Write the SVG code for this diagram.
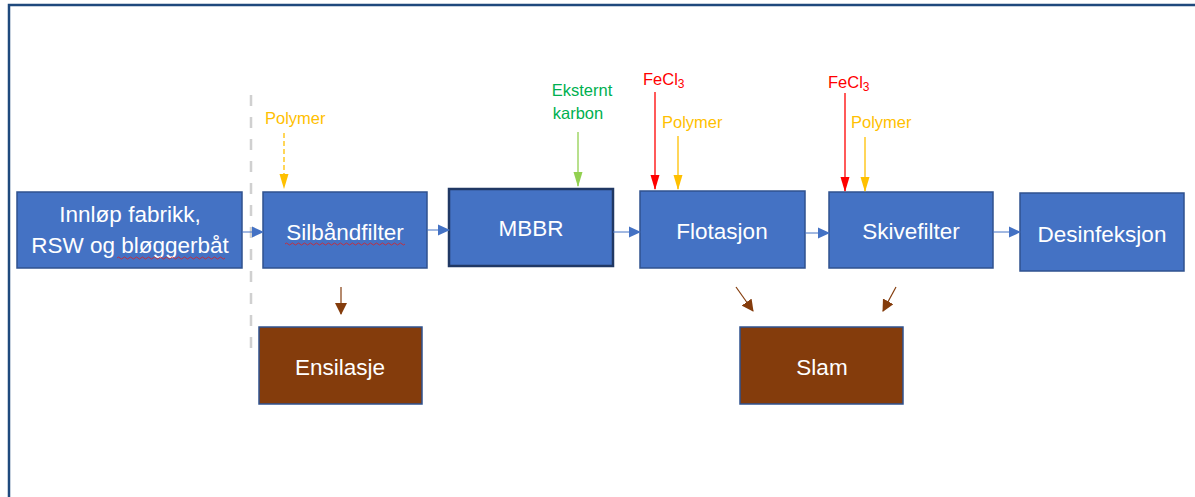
<svg xmlns="http://www.w3.org/2000/svg" width="1195" height="497" viewBox="0 0 1195 497">
  <defs>
    <style>
      .proc { fill: #4472C4; stroke: #2F528F; stroke-width: 1.5; }
      .waste { fill: #843C0C; stroke: #2F528F; stroke-width: 1.5; }
      .lbl { font-family: "Liberation Sans", Arial, sans-serif; font-size: 22.5px; fill: #FFFFFF; text-anchor: middle; }
      .small { font-family: "Liberation Sans", Arial, sans-serif; font-size: 16.5px; }
      .flow { stroke: #4472C4; stroke-width: 1; fill: none; }
      .sludge { stroke: #843C0C; stroke-width: 1.2; fill: none; }
    </style>
    <marker id="hBlue" markerWidth="12" markerHeight="12" refX="11" refY="6" orient="auto" markerUnits="userSpaceOnUse">
      <path d="M0,0.5 L12,6 L0,11.5 z" fill="#4472C4"/>
    </marker>
    <marker id="hBrown" markerWidth="12" markerHeight="12" refX="11" refY="6" orient="auto" markerUnits="userSpaceOnUse">
      <path d="M0,0 L12,6 L0,12 z" fill="#843C0C"/>
    </marker>
    <marker id="hRed" markerWidth="15" markerHeight="10" refX="14" refY="5" orient="auto" markerUnits="userSpaceOnUse">
      <path d="M0,0.5 L15,5 L0,9.5 z" fill="#FF0000"/>
    </marker>
    <marker id="hYellow" markerWidth="15" markerHeight="10" refX="14" refY="5" orient="auto" markerUnits="userSpaceOnUse">
      <path d="M0,0.5 L15,5 L0,9.5 z" fill="#FFC000"/>
    </marker>
    <marker id="hGreen" markerWidth="15" markerHeight="10" refX="14" refY="5" orient="auto" markerUnits="userSpaceOnUse">
      <path d="M0,0.5 L15,5 L0,9.5 z" fill="#92D050"/>
    </marker>
  </defs>

  <rect width="1195" height="497" fill="#FFFFFF"/>
  <!-- frame -->
  <path d="M9,497 L9,5 L1195,5" fill="none" stroke="#1F497D" stroke-width="2.5"/>

  <!-- boundary line -->
  <line x1="251" y1="95" x2="251" y2="358" stroke="#D0D0D0" stroke-width="2.5" stroke-dasharray="11,11"/>

  <g id="node-innlop">
    <rect class="proc" x="17" y="192" width="225" height="76"/>
    <text class="lbl" x="130" y="222">Innløp fabrikk,</text>
    <text class="lbl" x="130" y="253">RSW og bløggerbåt</text>
    <path d="M117,258 q1.5,-2 3,0 t3,0 t3,0 t3,0 t3,0 t3,0 t3,0 t3,0 t3,0 t3,0 t3,0 t3,0 t3,0 t3,0 t3,0 t3,0 t3,0 t3,0 t3,0 t3,0 t3,0 t3,0 t3,0 t3,0 t3,0 t3,0 t3,0 t3,0 t3,0 t3,0 t3,0 t3,0 t3,0 t3,0 t3,0 t3,0" fill="none" stroke="#E02020" stroke-width="0.8"/>
  </g>

  <g id="node-silband">
    <rect class="proc" x="263" y="192" width="164" height="76"/>
    <text class="lbl" x="345" y="240">Silbåndfilter</text>
    <path d="M285,244 q1.5,-2 3,0 t3,0 t3,0 t3,0 t3,0 t3,0 t3,0 t3,0 t3,0 t3,0 t3,0 t3,0 t3,0 t3,0 t3,0 t3,0 t3,0 t3,0 t3,0 t3,0 t3,0 t3,0 t3,0 t3,0 t3,0 t3,0 t3,0 t3,0 t3,0 t3,0 t3,0 t3,0 t3,0 t3,0 t3,0 t3,0 t3,0 t3,0 t3,0 t3,0" fill="none" stroke="#E02020" stroke-width="0.8"/>
  </g>

  <g id="node-mbbr">
    <rect x="449" y="189" width="164" height="77" fill="#4472C4" stroke="#203864" stroke-width="2.5"/>
    <text class="lbl" x="531" y="236">MBBR</text>
  </g>

  <g id="node-flotasjon">
    <rect class="proc" x="640" y="191" width="165" height="77"/>
    <text class="lbl" x="722" y="239">Flotasjon</text>
  </g>

  <g id="node-skivefilter">
    <rect class="proc" x="829" y="192" width="164" height="76"/>
    <text class="lbl" x="911" y="239">Skivefilter</text>
  </g>

  <g id="node-desinfeksjon">
    <rect class="proc" x="1020" y="193" width="164" height="78"/>
    <text class="lbl" x="1102" y="242">Desinfeksjon</text>
  </g>

  <g id="node-ensilasje">
    <rect class="waste" x="259" y="327" width="163" height="77"/>
    <text class="lbl" x="340" y="375">Ensilasje</text>
  </g>

  <g id="node-slam">
    <rect class="waste" x="740" y="327" width="163" height="77"/>
    <text class="lbl" x="822" y="375">Slam</text>
  </g>

  <!-- dosing labels -->
  <g id="chemicals">
    <text class="small" x="265" y="124" fill="#FFC000">Polymer</text>
    <text class="small" x="582" y="96" fill="#00B050" text-anchor="middle">Eksternt</text>
    <text class="small" x="578" y="119" fill="#00B050" text-anchor="middle">karbon</text>
    <text class="small" x="643" y="85" fill="#FF0000">FeCl<tspan font-size="12" dy="3">3</tspan></text>
    <text class="small" x="662" y="128" fill="#FFC000">Polymer</text>
    <text class="small" x="828" y="88" fill="#FF0000">FeCl<tspan font-size="12" dy="3">3</tspan></text>
    <text class="small" x="851" y="128" fill="#FFC000">Polymer</text>
  </g>

  <g id="connectors">
    <!-- main process line -->
    <line class="flow" x1="242" y1="232" x2="263" y2="232" marker-end="url(#hBlue)"/>
    <line class="flow" x1="427" y1="230" x2="449" y2="230" marker-end="url(#hBlue)"/>
    <line class="flow" x1="613" y1="232" x2="640" y2="232" marker-end="url(#hBlue)"/>
    <line class="flow" x1="805" y1="233" x2="829" y2="233" marker-end="url(#hBlue)"/>
    <line class="flow" x1="993" y1="232" x2="1020" y2="232" marker-end="url(#hBlue)"/>

    <!-- chemical dosing -->
    <line x1="284" y1="133" x2="284" y2="188" stroke="#FFC000" stroke-width="1.3" stroke-dasharray="5,3" marker-end="url(#hYellow)"/>
    <line x1="578" y1="132" x2="578" y2="186" stroke="#92D050" stroke-width="1.3" marker-end="url(#hGreen)"/>
    <line x1="655" y1="92" x2="655" y2="189" stroke="#FF0000" stroke-width="1.3" marker-end="url(#hRed)"/>
    <line x1="678" y1="136" x2="678" y2="189" stroke="#FFC000" stroke-width="1.3" marker-end="url(#hYellow)"/>
    <line x1="845" y1="93" x2="845" y2="191" stroke="#FF0000" stroke-width="1.3" marker-end="url(#hRed)"/>
    <line x1="865" y1="137" x2="865" y2="191" stroke="#FFC000" stroke-width="1.3" marker-end="url(#hYellow)"/>

    <!-- sludge outlets -->
    <line class="sludge" x1="341" y1="287" x2="341" y2="314" marker-end="url(#hBrown)"/>
    <line class="sludge" x1="736" y1="287" x2="753" y2="311" marker-end="url(#hBrown)"/>
    <line class="sludge" x1="896" y1="287" x2="883" y2="311" marker-end="url(#hBrown)"/>
  </g>
</svg>
